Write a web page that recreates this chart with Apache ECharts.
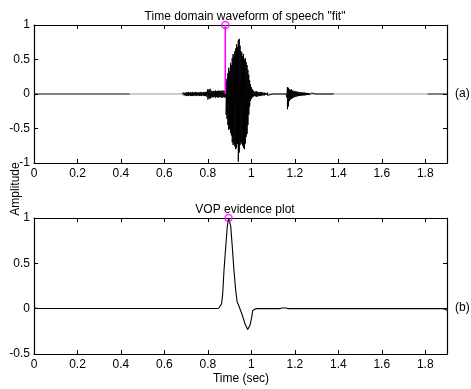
<!DOCTYPE html>
<html><head><meta charset="utf-8">
<script src="https://cdn.jsdelivr.net/npm/echarts/dist/echarts.min.js"></script>
<style>html,body{margin:0;padding:0;background:#fff}#c{width:471px;height:389px}</style>
</head><body><div id="c"></div>
<script>
// ---------- data ----------
const titleTop = 'Time domain waveform of speech "fit"';
const titleBottom = 'VOP evidence plot';
const xLabel = 'Time (sec)';
const yLabel = 'Amplitude';
const xTickStep = 0.2;
const xMin = 0, xMax = 1.9;
const yTopMin = -1, yTopMax = 1, yBotMin = -0.5, yBotMax = 1, yStep = 0.5;

// speech waveform, as upper/lower envelope at each time (sec)
const preT  = [0.680,0.685,0.690,0.695,0.700,0.705,0.710,0.715,0.720,0.725,
               0.730,0.735,0.740,0.745,0.750,0.755,0.760,0.765,0.770,0.775,
               0.780,0.785,0.790,0.795,0.800,0.805,0.810,0.815,0.820,0.825,
               0.830,0.835,0.840,0.845,0.850,0.855,0.860,0.865,0.870,0.875];
const preHi = [0,0.010,0.020,0.015,0.025,0.020,0.030,0.020,0.025,0.020,
               0.030,0.020,0.025,0.030,0.020,0.025,0.020,0.030,0.025,0.020,
               0.030,0.025,0.030,0.035,0.070,0.060,0.075,0.050,0.040,0.045,
               0.040,0.050,0.040,0.045,0.050,0.040,0.050,0.045,0.050,0.040];
const preLo = [0,-0.015,-0.020,-0.020,-0.030,-0.025,-0.030,-0.020,-0.030,-0.025,
               -0.030,-0.025,-0.020,-0.030,-0.025,-0.020,-0.030,-0.025,-0.030,-0.020,
               -0.025,-0.030,-0.030,-0.040,-0.080,-0.060,-0.070,-0.050,-0.045,-0.050,
               -0.040,-0.055,-0.045,-0.050,-0.050,-0.045,-0.050,-0.055,-0.045,-0.050];

const burstT  = [0.880,0.884,0.888,0.892,0.896,0.900,0.904,0.908,0.912,0.916,
                 0.920,0.924,0.928,0.932,0.936,0.940,0.944,0.948,0.952,0.956,
                 0.960,0.964,0.968,0.972,0.976,0.980,0.984,0.988,0.992,0.996,
                 1.000,1.004,1.008,1.012];
const burstHi = [0.05,0.18,0.22,0.30,0.38,0.33,0.45,0.42,0.52,0.58,
                 0.55,0.62,0.66,0.72,0.68,0.78,0.80,0.70,0.62,0.60,
                 0.55,0.58,0.50,0.52,0.46,0.42,0.35,0.28,0.20,0.14,
                 0.10,0.07,0.05,0.04];
const burstLo = [-0.05,-0.30,-0.36,-0.45,-0.52,-0.50,-0.56,-0.60,-0.70,-0.74,
                 -0.72,-0.76,-0.80,-0.78,-0.72,-0.98,-0.85,-0.74,-0.70,-0.72,
                 -0.75,-0.78,-0.80,-0.72,-0.62,-0.58,-0.45,-0.30,-0.18,-0.10,
                 -0.07,-0.05,-0.04,-0.03];

const postT  = [1.018,1.024,1.030,1.036,1.042,1.048,1.054,1.060,1.066,1.070,1.074,1.076,1.080];
const postHi = [0.035,0.040,0.030,0.030,0.025,0.030,0.020,0.020,0.015,0,0.020,0,0];
const postLo = [-0.035,-0.040,-0.035,-0.030,-0.030,-0.025,-0.020,-0.020,-0.015,0,-0.020,0,0];

const secT  = [1.160,1.163,1.166,1.170,1.175,1.180,1.185,1.190,1.195,1.200,
               1.205,1.210,1.215,1.220,1.225,1.230,1.235,1.240,1.245,1.250,
               1.255,1.260,1.265,1.270,1.275,1.280,1.285,1.290,1.295,
               1.329,1.330,1.331,1.376,1.377,1.378];
const secHi = [0,0.02,0.10,0.09,0.07,0.06,0.065,0.05,0.045,0.04,
               0.04,0.035,0.03,0.03,0.025,0.025,0.02,0.02,0.02,0.018,
               0.015,0.015,0.015,0.012,0.012,0.01,0.01,0.01,0,
               0,0.012,0,0,0.012,0];
const secLo = [0,-0.05,-0.22,-0.18,-0.10,-0.08,-0.07,-0.06,-0.05,-0.045,
               -0.04,-0.035,-0.03,-0.03,-0.025,-0.025,-0.02,-0.02,-0.02,-0.018,
               -0.015,-0.015,-0.015,-0.012,-0.012,-0.01,-0.01,-0.01,0,
               0,-0.012,0,0,-0.012,0];

// silent baseline pieces (sec)
const baseDark1 = [0, 0.44];
const baseGrey  = [0.44, 1.81];
const baseDark2 = [1.81, 1.9];

// detected vowel onset point
const vopWaveT = 0.88, vopWaveV = 1;
const vopPeakT = 0.895, vopPeakV = 1;

// VOP evidence curve
const vopT = [0,0.005,0.02,0.84,0.850,0.856,0.863,0.868,0.874,0.882,0.889,0.895,
              0.900,0.905,0.912,0.920,0.928,0.935,0.941,0.948,0.958,0.971,0.983,
              0.994,1.002,1.006,1.012,1.020,1.130,1.140,1.160,1.170,1.880,1.890,1.900];
const vopV = [0.006,0.004,0.002,0.002,0.004,0.010,0.055,0.16,0.42,0.68,0.90,1.0,
              0.98,0.91,0.69,0.42,0.20,0.07,0.04,0.02,-0.07,-0.17,-0.23,
              -0.18,-0.09,-0.02,0.0,0.0,0.0,0.007,0.007,0.0,0.0,-0.005,-0.02];

// ---------- build ----------
function zig(T, H, L) { const o = []; for (let i = 0; i < T.length; i++) { o.push([T[i], H[i]]); o.push([T[i], L[i]]); } return o; }
const waveData = zig(preT, preHi, preLo).concat(zig(burstT, burstHi, burstLo), zig(postT, postHi, postLo), [[1.10,0]], zig(secT, secHi, secLo));
const seg = a => [[a[0], 0], [a[1], 0]];

const FONT = '"Liberation Sans", Arial, Helvetica, sans-serif';
const FS = 12;
const TXT = { color: '#000', fontFamily: FONT, fontSize: FS };
const grids = [
  { left: 34, top: 25, width: 413, height: 138 },
  { left: 34, top: 218, width: 413, height: 136 }
];
function xAx(g, pos, labels) {
  return { type: 'value', gridIndex: g, position: pos, min: xMin, max: xMax, interval: xTickStep,
    axisLine: { show: true, onZero: false, lineStyle: { color: '#000', width: 1.2 } },
    axisTick: { show: true, inside: true, length: 4, lineStyle: { color: '#000', width: 1 } },
    axisLabel: { show: labels, margin: 5, showMaxLabel: false, ...TXT },
    splitLine: { show: false } };
}
function yAx(g, pos, min, max, labels) {
  return { type: 'value', gridIndex: g, position: pos, min: min, max: max, interval: yStep,
    axisLine: { show: true, onZero: false, lineStyle: { color: '#000', width: 1.2 } },
    axisTick: { show: true, inside: true, length: 4, lineStyle: { color: '#000', width: 1 } },
    axisLabel: { show: labels, margin: 4, ...TXT },
    splitLine: { show: false } };
}
const lineS = (xi, yi, data, color, w) => ({ type: 'line', xAxisIndex: xi, yAxisIndex: yi, data: data,
  showSymbol: false, symbol: 'none', lineStyle: { color: color, width: w }, silent: true, z: 2 });
const marker = (xi, yi, pt) => ({ type: 'scatter', xAxisIndex: xi, yAxisIndex: yi, data: [pt], symbol: 'circle',
  symbolSize: 7, itemStyle: { color: 'rgba(255,255,255,0)', borderColor: '#ff00ff', borderWidth: 1.6 }, clip: false, z: 5 });

const option = {
  animation: false,
  backgroundColor: '#fff',
  grid: grids,
  xAxis: [xAx(0, 'bottom', true), xAx(0, 'top', false), xAx(1, 'bottom', true), xAx(1, 'top', false)],
  yAxis: [yAx(0, 'left', yTopMin, yTopMax, true), yAx(0, 'right', yTopMin, yTopMax, false),
          yAx(1, 'left', yBotMin, yBotMax, true), yAx(1, 'right', yBotMin, yBotMax, false)],
  title: [
    { text: titleTop, left: 240, top: 6, textAlign: 'center', textStyle: { ...TXT, fontWeight: 'normal' } },
    { text: titleBottom, left: 240, top: 199, textAlign: 'center', textStyle: { ...TXT, fontWeight: 'normal' } }
  ],
  graphic: [
    { type: 'text', x: 10, y: 189, rotation: Math.PI / 2, style: { text: yLabel, fill: '#000', font: FS + 'px ' + FONT, align: 'center', verticalAlign: 'top' } },
    { type: 'text', x: 241, y: 373, style: { text: xLabel, fill: '#000', font: FS + 'px ' + FONT, align: 'center', verticalAlign: 'top' } },
    { type: 'text', x: 455, y: 94, style: { text: '(a)', fill: '#000', font: FS + 'px ' + FONT, align: 'left', verticalAlign: 'middle' } },
    { type: 'text', x: 455, y: 308, style: { text: '(b)', fill: '#000', font: FS + 'px ' + FONT, align: 'left', verticalAlign: 'middle' } }
  ],
  series: [
    lineS(0, 0, seg(baseGrey), '#9a9a9a', 1.2),
    lineS(0, 0, seg(baseDark1), '#000', 1),
    lineS(0, 0, seg(baseDark2), '#000', 1),
    lineS(0, 0, waveData, '#000', 1),
    lineS(0, 0, [[vopWaveT, 0], [vopWaveT, vopWaveV]], '#ff00ff', 1.6),
    marker(0, 0, [vopWaveT, vopWaveV]),
    lineS(2, 2, vopT.map((t, i) => [t, vopV[i]]), '#000', 1.1),
    marker(2, 2, [vopPeakT, vopPeakV])
  ]
};
const chart = echarts.init(document.getElementById('c'), null, { renderer: 'canvas' });
chart.setOption(option);
</script>
</body></html>
